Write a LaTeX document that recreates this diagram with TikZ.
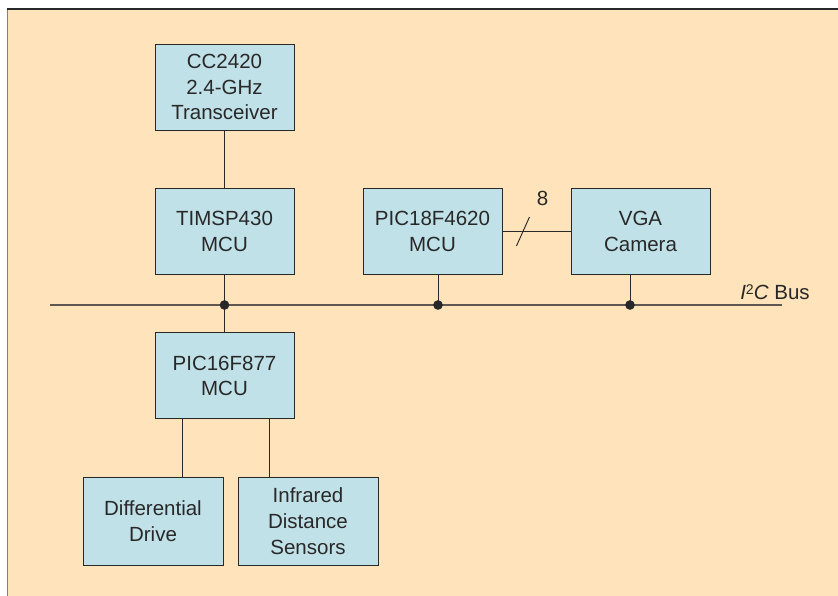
\documentclass[tikz,border=0pt]{standalone}
\usepackage{fontspec}
\setmainfont{Liberation Sans}
\usetikzlibrary{positioning, calc}
\definecolor{peach}{RGB}{254,227,187}
\definecolor{boxblue}{RGB}{193,225,232}
\definecolor{edge}{RGB}{40,40,40}
\definecolor{busgray}{RGB}{95,88,82}
\tikzstyle{module} = [rectangle, minimum width=4.17cm, minimum height=2.58cm, text centered, align=center, draw=edge, fill=boxblue, line width=0.8pt, text=edge, font=\fontsize{17.5}{22}\selectfont]

\begin{document}
\begin{tikzpicture}[node distance=4.33cm]
            \tikzstyle{wire} = [draw=edge, line width=0.8pt]
            \tikzstyle{bus} = [draw=busgray, line width=1.2pt]
            \tikzstyle{tap} = [circle, fill=edge, inner sep=0pt, minimum size=0.29cm]
            \tikzstyle{endbox} = [module, minimum width=4.2cm, minimum height=2.64cm]

            \useasboundingbox (0,0) rectangle (25.14,-17.88);
            \fill[peach] (0.21,-0.27) rectangle (25.14,-17.88);
            \draw[gray, line width=0.8pt] (0.21,-17.88) -- (0.21,-0.27);
            \draw[edge, line width=1pt] (0.21,-0.27) -- (25.14,-0.27);

            \node[module] (timsp) at (6.735,-6.945) {TIMSP430\\MCU};
            \node[module, above of=timsp] (cc) {CC2420\\2.4-GHz\\Transceiver};
            \node[module, below of=timsp] (pic16) {PIC16F877\\MCU};
            \node[module, right of=timsp, node distance=6.24cm] (pic18) {PIC18F4620\\MCU};
            \node[module, right of=pic18, node distance=6.24cm] (vga) {VGA\\Camera};

            \node[endbox, below of=pic16, xshift=-2.145cm, yshift=-0.035cm] (diff) {Differential\\Drive};
            \node[endbox, below of=pic16, xshift=2.505cm, yshift=-0.035cm] (ir) {Infrared\\Distance\\Sensors};

            % I2C bus
            \coordinate (busL) at (1.5,-9.15);
            \coordinate (busR) at (23.46,-9.15);
            \draw[bus] (busL) -- (busR);
            \node[text=edge, font=\fontsize{17.5}{22}\selectfont] (buslabel) at (23.25,-8.76) {\textit{I}\raisebox{0.5ex}{\fontsize{12}{12}\selectfont 2}\textit{C} Bus};

            \coordinate (tap1) at (timsp.south |- busL);
            \coordinate (p18s) at ([xshift=0.165cm]pic18.south);
            \coordinate (tap2) at (p18s |- busL);
            \coordinate (vgas) at ([xshift=-0.315cm]vga.south);
            \coordinate (tap3) at (vgas |- busL);

            \draw[wire] (cc) -- (timsp);
            \draw[wire] (timsp) -- (pic16);
            \draw[wire] (p18s) -- (tap2);
            \draw[wire] (vgas) -- (tap3);
            \node[tap] (dot1) at (tap1) {};
            \node[tap] (dot2) at (tap2) {};
            \node[tap] (dot3) at (tap3) {};

            % 8-bit camera link
            \draw[wire] (pic18) -- (vga);
            \draw[wire] ([shift={(0.42,-0.435)}]pic18.east) -- ([shift={(0.81,0.435)}]pic18.east);
            \node[text=edge, font=\fontsize{17.5}{22}\selectfont] (width) at ([shift={(1.2,1.0)}]pic18.east) {8};

            \coordinate (d1) at ([xshift=-1.275cm]pic16.south);
            \coordinate (d2) at ([xshift=1.335cm]pic16.south);
            \draw[wire] (d1) -- (d1 |- diff.north);
            \draw[wire] (d2) -- (d2 |- ir.north);

        \end{tikzpicture}
\end{document}
